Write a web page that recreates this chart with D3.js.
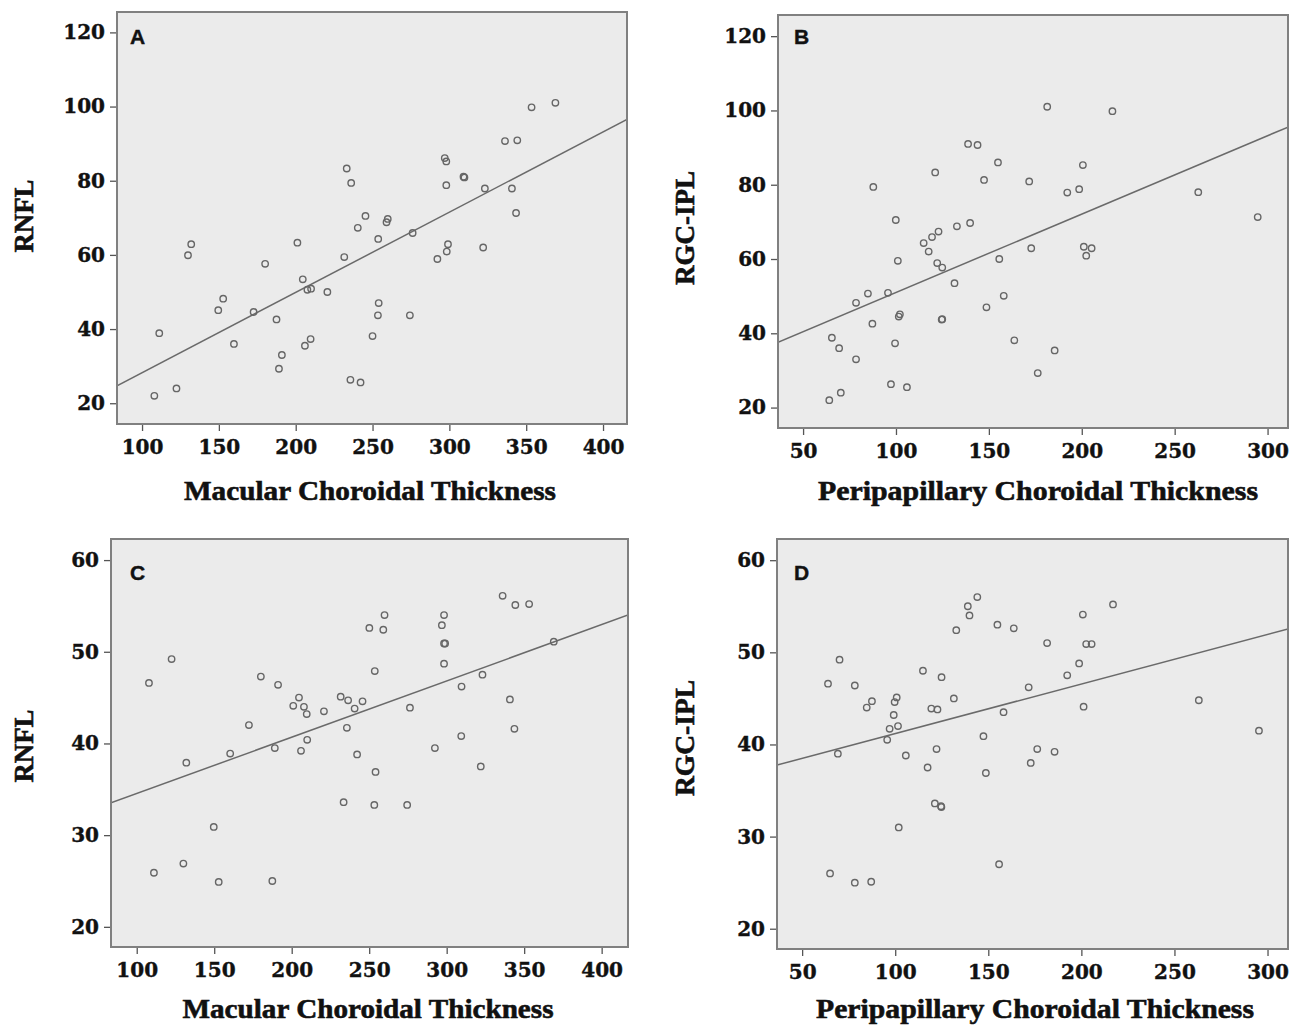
<!DOCTYPE html>
<html>
<head>
<meta charset="utf-8">
<script src="https://cdn.jsdelivr.net/npm/d3@7"></script>
<style>
  html, body { margin: 0; padding: 0; background: #fff; }
  svg { display: block; }
  .tick text { font-family: "DejaVu Serif", serif; font-weight: bold; font-size: 20px; fill: #111; stroke: #111; stroke-width: 0.4px; }
  .tick line { stroke: #555; stroke-width: 1.3px; }
</style>
</head>
<body>
<svg id="chart" width="1290" height="1026"></svg>
<script>
// Panel A: macular choroidal thickness vs RNFL
const aX = [108, 111.2, 122.4, 129.9, 132, 149.6, 152.8, 159.8, 172.6, 180.1, 187.5, 189.1, 191, 201.1, 204.6, 206, 207.6, 210, 209.7, 220.6,
  231.6, 233.2, 235.6, 236.1, 240.4, 242.2, 245.4, 250, 253.5, 253.7, 254, 259.1, 259.9, 274.3, 276.1, 292.2, 297, 298, 298, 298.3,
  299.1, 309.2, 309.8, 322, 323.1, 336.2, 340.7, 343.4, 344.2, 353.5, 369];
const aY = [22.0, 38.9, 24.0, 59.9, 62.9, 45.1, 48.2, 36.0, 44.6, 57.6, 42.6, 29.3, 33.0, 63.3, 53.4, 35.5, 50.6, 50.9, 37.3, 50.0,
  59.4, 83.3, 26.3, 79.4, 67.3, 25.6, 70.5, 38.1, 43.7, 64.3, 47.0, 68.8, 69.7, 43.7, 65.9, 58.9, 86.1, 85.2, 78.8, 60.9,
  62.9, 81.1, 80.9, 62.0, 77.9, 90.7, 77.9, 71.3, 90.9, 99.8, 101.0];

// Panel B: peripapillary choroidal thickness vs RGC-IPL
const bX = [64.1, 65.5, 69.4, 70.3, 78.5, 78.5, 84.9, 87.3, 87.8, 95.7, 97.3, 99.5, 99.9, 101, 101.5, 102.1, 105.9, 114.9, 117.6, 119.4,
  121.1, 122.2, 122.9, 124.6, 124.9, 124.9, 131.5, 132.8, 138.8, 139.9, 143.9, 147.4, 148.7, 154.9, 155.6, 158, 163.7, 171.7, 172.8, 176.3,
  181.4, 185.4, 192.2, 198.6, 200.6, 201.1, 202.4, 205.3, 216.5, 262.7, 294.7];
const bY = [22.0, 38.8, 36.0, 24.0, 48.2, 33.0, 50.7, 42.6, 79.4, 50.9, 26.3, 37.3, 70.5, 59.5, 44.5, 45.1, 25.5, 64.3, 62.0, 65.9,
  83.3, 58.9, 67.4, 43.7, 57.7, 43.8, 53.5, 68.8, 91.0, 69.7, 90.7, 81.3, 47.0, 86.0, 60.0, 50.1, 38.1, 80.9, 62.9, 29.3,
  101.0, 35.4, 77.9, 78.8, 85.3, 63.3, 60.9, 62.9, 99.8, 78.0, 71.3];

// Panel C: macular choroidal thickness vs RNFL
const cX = [107.9, 111.1, 122.5, 130.1, 132, 149.7, 152.9, 160.3, 172.4, 180.1, 187.5, 189.1, 191.2, 201, 204.7, 206, 207.9, 209.7, 210, 220.8,
  231.6, 236.4, 235.6, 233.5, 240.6, 242.2, 245.7, 250.1, 253.6, 254.1, 253.3, 259.1, 259.9, 274.5, 276.3, 292.4, 296.9, 298.3, 298.3, 299,
  298.3, 309.4, 309.6, 322, 323.1, 336.1, 340.8, 343.7, 344.3, 353.2, 369.1];
const cY = [46.6, 25.9, 49.2, 26.9, 37.9, 30.9, 24.9, 38.9, 42.0, 47.3, 25.0, 39.5, 46.4, 44.1, 45.0, 39.2, 44.0, 43.2, 40.4, 43.5,
  45.1, 44.7, 41.7, 33.6, 43.8, 38.8, 44.6, 52.6, 47.9, 36.9, 33.3, 52.4, 54.0, 33.3, 43.9, 39.5, 52.9, 54.0, 50.9, 50.9,
  48.7, 40.8, 46.2, 37.5, 47.5, 56.1, 44.8, 41.6, 55.1, 55.2, 51.1];

// Panel D: peripapillary choroidal thickness vs RGC-IPL
const dX = [63.9, 65, 69.2, 70.1, 78.3, 78.3, 84.7, 87.1, 87.5, 95.7, 97, 99.2, 99.7, 100.8, 101.5, 101.9, 105.7, 114.9, 117.4, 119.4,
  121.3, 122.2, 122.7, 124.6, 124.9, 124.8, 131.5, 132.8, 139, 139.9, 144.1, 147.4, 148.7, 154.9, 155.8, 158.2, 163.7, 171.7, 172.8, 176.3,
  181.6, 185.6, 192.4, 198.8, 200.8, 201.2, 202.6, 205.5, 217, 263.1, 295.4];
const dY = [46.6, 26.0, 39.0, 49.2, 46.4, 25.0, 44.0, 25.1, 44.7, 40.5, 41.7, 43.2, 44.6, 45.1, 42.0, 31.0, 38.8, 48.0, 37.5, 43.9,
  33.6, 39.5, 43.8, 33.3, 47.3, 33.2, 45.0, 52.4, 55.0, 54.0, 56.0, 40.9, 36.9, 53.0, 27.0, 43.5, 52.6, 46.2, 38.0, 39.5,
  51.0, 39.2, 47.5, 48.8, 54.1, 44.1, 50.9, 50.9, 55.2, 44.8, 41.5];

// fit lines (intercept + slope * x)
const fitIntercepts = [6.6, 29.9, 28.4, 35.8];
const fitSlopes = [0.2164, 0.211, 0.0614, 0.0538];

const macularTicks = [100, 150, 200, 250, 300, 350, 400];
const peripapTicks = [50, 100, 150, 200, 250, 300];
const wideYTicks = [20, 40, 60, 80, 100, 120];
const narrowYTicks = [20, 30, 40, 50, 60];

const panelLetters = ['A', 'B', 'C', 'D'];
const xTitles = ['Macular Choroidal Thickness', 'Peripapillary Choroidal Thickness', 'Macular Choroidal Thickness', 'Peripapillary Choroidal Thickness'];
const yTitles = ['RNFL', 'RGC-IPL', 'RNFL', 'RGC-IPL'];

// layout: box = [left, top, right, bottom]
const panels = [
    { xs: aX, ys: aY, box: [117, 12, 627, 424], xDom: [83.7, 415.6], yDom: [14.4, 125.5], xTicks: macularTicks, yTicks: wideYTicks,
      letterAt: [130, 44], xTitleAt: [370, 500, 372], yTitleAt: [33, 216, 73] },
    { xs: bX, ys: bY, box: [778, 15, 1288, 428], xDom: [36.5, 311], yDom: [14.5, 125.7], xTicks: peripapTicks, yTicks: wideYTicks,
      letterAt: [794, 44], xTitleAt: [1038, 500, 440], yTitleAt: [694, 228, 114] },
    { xs: cX, ys: cY, box: [111, 539, 628, 947], xDom: [83.4, 417], yDom: [17.8, 62.3], xTicks: macularTicks, yTicks: narrowYTicks,
      letterAt: [130, 580], xTitleAt: [368, 1018, 371], yTitleAt: [33, 746, 73] },
    { xs: dX, ys: dY, box: [777, 539, 1288, 949], xDom: [36.5, 311], yDom: [17.8, 62.3], xTicks: peripapTicks, yTicks: narrowYTicks,
      letterAt: [794, 580], xTitleAt: [1035, 1018, 438], yTitleAt: [694, 738, 116] }
];

const svg = d3.select('#chart');
const titleFont = '"Liberation Serif", "Times New Roman", serif';

panels.forEach((p, i) => {
    const [l, t, r, b] = p.box;
    const x = d3.scaleLinear().domain(p.xDom).range([l, r]);
    const y = d3.scaleLinear().domain(p.yDom).range([b, t]);
    const g = svg.append('g');

    g.append('clipPath').attr('id', 'clip' + i)
        .append('rect').attr('x', l).attr('y', t).attr('width', r - l).attr('height', b - t);

    g.append('rect')
        .attr('x', l).attr('y', t).attr('width', r - l).attr('height', b - t)
        .attr('fill', '#ebebeb');

    g.append('g')
        .attr('transform', `translate(0,${b})`)
        .call(d3.axisBottom(x).tickValues(p.xTicks).tickSize(7).tickPadding(9).tickSizeOuter(0))
        .call(ax => ax.select('.domain').remove());

    g.append('g')
        .attr('transform', `translate(${l},0)`)
        .call(d3.axisLeft(y).tickValues(p.yTicks).tickSize(7).tickPadding(5).tickSizeOuter(0))
        .call(ax => ax.select('.domain').remove());

    // fit line
    const x0 = p.xDom[0], x1 = p.xDom[1];
    g.append('line')
        .attr('clip-path', `url(#clip${i})`)
        .attr('x1', x(x0)).attr('y1', y(fitIntercepts[i] + fitSlopes[i] * x0))
        .attr('x2', x(x1)).attr('y2', y(fitIntercepts[i] + fitSlopes[i] * x1))
        .attr('stroke', '#6a6a6a').attr('stroke-width', 1.5);

    g.selectAll('circle.pt')
        .data(p.xs.map((v, k) => [v, p.ys[k]]))
        .enter().append('circle')
        .attr('class', 'pt')
        .attr('cx', d => x(d[0]))
        .attr('cy', d => y(d[1]))
        .attr('r', 3.2)
        .attr('fill', 'none')
        .attr('stroke', '#666')
        .attr('stroke-width', 1.4);

    g.append('rect')
        .attr('x', l).attr('y', t).attr('width', r - l).attr('height', b - t)
        .attr('fill', 'none').attr('stroke', '#808080').attr('stroke-width', 2);

    g.append('text')
        .attr('x', p.letterAt[0]).attr('y', p.letterAt[1])
        .attr('font-family', '"Liberation Sans", Arial, sans-serif')
        .attr('font-weight', 'bold').attr('font-size', 21).attr('fill', '#111')
        .attr('stroke', '#111').attr('stroke-width', 0.4)
        .text(panelLetters[i]);

    g.append('text')
        .attr('x', p.xTitleAt[0]).attr('y', p.xTitleAt[1])
        .attr('text-anchor', 'middle')
        .attr('font-family', titleFont).attr('font-weight', 'bold').attr('font-size', 28).attr('fill', '#111')
        .attr('stroke', '#111').attr('stroke-width', 0.6)
        .attr('textLength', p.xTitleAt[2]).attr('lengthAdjust', 'spacingAndGlyphs')
        .text(xTitles[i]);

    g.append('text')
        .attr('transform', `translate(${p.yTitleAt[0]},${p.yTitleAt[1]}) rotate(-90)`)
        .attr('text-anchor', 'middle')
        .attr('font-family', titleFont).attr('font-weight', 'bold').attr('font-size', 28).attr('fill', '#111')
        .attr('stroke', '#111').attr('stroke-width', 0.6)
        .attr('textLength', p.yTitleAt[2]).attr('lengthAdjust', 'spacingAndGlyphs')
        .text(yTitles[i]);
});
</script>
</body>
</html>
